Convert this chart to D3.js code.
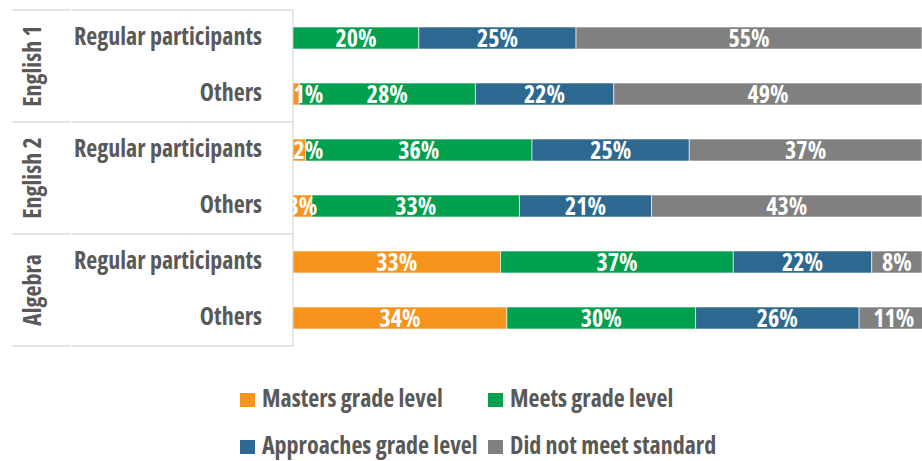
<!DOCTYPE html>
<html>
<head>
<meta charset="utf-8">
<script src="https://cdn.jsdelivr.net/npm/d3@7"></script>
<style>
  html, body { margin: 0; padding: 0; background: #fff; }
  svg { display: block; }
  text { font-family: "Open Sans", "Liberation Sans Narrow", sans-serif; font-stretch: condensed; font-weight: 700; }
</style>
</head>
<body>
<svg id="chart" width="922" height="461"></svg>
<script>
const subjects = ["English 1", "English 2", "Algebra"];
const groupsLabels = ["Regular participants", "Others"];
const seriesNames = ["Masters grade level", "Meets grade level", "Approaches grade level", "Did not meet standard"];
const seriesColors = ["#F7941D", "#00A04F", "#2D6891", "#808080"];
// values per row: [Masters, Meets, Approaches, Did not meet]
const english1Regular = [0, 20, 25, 55];
const english1Others  = [1, 28, 22, 49];
const english2Regular = [2, 36, 25, 37];
const english2Others  = [3, 33, 21, 43];
const algebraRegular  = [33, 37, 22, 8];
const algebraOthers   = [34, 30, 26, 11];

const rows = [
  { subject: "English 1", group: "Regular participants", values: english1Regular },
  { subject: "English 1", group: "Others", values: english1Others },
  { subject: "English 2", group: "Regular participants", values: english2Regular },
  { subject: "English 2", group: "Others", values: english2Others },
  { subject: "Algebra", group: "Regular participants", values: algebraRegular },
  { subject: "Algebra", group: "Others", values: algebraOthers }
];
rows.forEach((r, i) => r.key = i);

const svg = d3.select("#chart");
const plotLeft = 293, plotRight = 922, plotTop = 10, plotBottom = 346;
const textColor = "#595959";
const lineColor = "#dcdcdc";
const fs = 24;

const x = d3.scaleLinear().domain([0, 100]).range([plotLeft, plotRight]);
const p = 0.607;
const y = d3.scaleBand().domain(rows.map(r => r.key)).range([plotTop, plotBottom]).paddingInner(p).paddingOuter(p / 2);

svg.append("defs").append("clipPath").attr("id", "plotclip")
  .append("rect").attr("x", plotLeft).attr("y", 0).attr("width", plotRight - plotLeft).attr("height", 461);

const step = y.step();
const gBox = svg.append("g");
const boundaries = [0, 2, 4, 6].map(i => plotTop + i * step);
boundaries.forEach(yy => {
  gBox.append("line").attr("x1", 12).attr("x2", 71).attr("y1", yy).attr("y2", yy)
    .attr("stroke", lineColor).attr("stroke-width", 1.5);
  gBox.append("line").attr("x1", 72).attr("x2", plotLeft).attr("y1", yy).attr("y2", yy)
    .attr("stroke", lineColor).attr("stroke-width", 1.5);
});
gBox.append("line").attr("x1", plotLeft).attr("x2", plotLeft).attr("y1", plotTop).attr("y2", plotBottom)
  .attr("stroke", lineColor).attr("stroke-width", 1.5);

subjects.forEach((s, i) => {
  const cy = plotTop + (2 * i + 1) * step;
  svg.append("text")
    .attr("transform", `translate(41,${cy}) rotate(-90)`)
    .attr("text-anchor", "middle")
    .attr("fill", textColor).attr("font-size", fs).text(s);
});

svg.append("g").selectAll("text").data(rows).join("text")
  .attr("x", 262).attr("y", d => y(d.key) + y.bandwidth() / 2 + 7)
  .attr("text-anchor", "end")
  .attr("fill", textColor).attr("font-size", fs).text(d => d.group);

const stackData = rows.map(r => {
  let acc = 0;
  return r.values.map((v, j) => { const s = { row: r.key, j, v, x0: acc, x1: acc + v }; acc += v; return s; });
});
const plot = svg.append("g").attr("clip-path", "url(#plotclip)");
const segs = stackData.flat().filter(d => d.v > 0);
plot.selectAll("rect").data(segs).join("rect")
  .attr("x", d => x(d.x0)).attr("width", d => x(d.x1) - x(d.x0))
  .attr("y", d => y(d.row)).attr("height", y.bandwidth())
  .attr("fill", d => seriesColors[d.j])
  .attr("stroke", "rgba(255,255,255,0.6)").attr("stroke-width", 1);

const labels = plot.selectAll("text.val").data(segs).join("text").attr("class", "val")
  .attr("y", d => y(d.row) + y.bandwidth() / 2 + 8.5)
  .attr("text-anchor", "middle")
  .attr("fill", "#fff").attr("font-size", 24)
  .text(d => d.v + "%");
labels.each(function(d) {
  const w = this.getComputedTextLength();
  let cx = (x(d.x0) + x(d.x1)) / 2;
  if (cx - w / 2 < plotLeft - 7) cx = plotLeft + w / 2 + 0.5;
  d3.select(this).attr("x", cx);
});

const legendPos = [[240, 407], [488, 407], [240, 454], [488, 454]];
const leg = svg.append("g").selectAll("g").data(seriesNames).join("g")
  .attr("transform", (d, i) => `translate(${legendPos[i][0]},${legendPos[i][1]})`);
leg.append("rect").attr("x", 0).attr("y", -14).attr("width", 15).attr("height", 14)
  .attr("fill", (d, i) => seriesColors[i]);
leg.append("text").attr("x", 22).attr("y", 0)
  .attr("fill", textColor).attr("font-size", fs).text(d => d);
</script>
</body>
</html>
